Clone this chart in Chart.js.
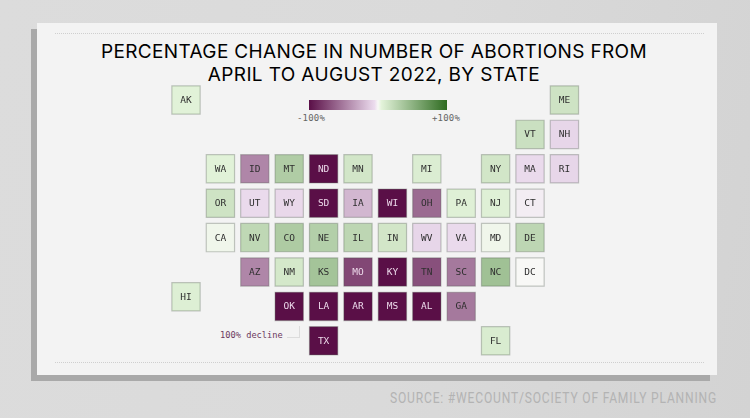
<!DOCTYPE html>
<html>
<head>
    <meta charset="UTF-8">
    <title>Abortions by state</title>
    <script src="https://cdn.jsdelivr.net/npm/chart.js"></script>
    <style>
        html, body { margin: 0; padding: 0; }
        body { width: 750px; height: 418px; overflow: hidden; position: relative;
               background: linear-gradient(100deg, #dcdcdc, #dadada 55%, #d3d3d3); }
        #shadow { position: absolute; left: 31px; top: 29px; width: 679px; height: 352px; background: #a9a9a9; }
        #card { position: absolute; left: 37px; top: 23px; width: 680px; height: 352px; background: #f3f3f3; }
        .dots { position: absolute; left: 55px; width: 649px; border-top: 1px dotted #cfcfcf; }
        #title { position: absolute; left: -1px; top: 40px; width: 750px; text-align: center;
                 font: 19px/23px Inter, sans-serif; letter-spacing: 0.36px; color: #000; }
        #ramp { position: absolute; left: 309px; top: 100px; width: 138px; height: 10px; }
        .mono { position: absolute; font-family: "DejaVu Sans Mono", monospace; white-space: nowrap; }
        #source { position: absolute; left: 390px; top: 389px; white-space: nowrap; color: #b3b3b3;
                  font: 15px/18px Roboto, sans-serif; letter-spacing: 1px;
                  transform: scaleX(.805); transform-origin: left top; }
        #leader { position: absolute; left: 287px; top: 326px; width: 12px; height: 11px;
                  border-right: 1px solid #dcdcdc; border-bottom: 1px solid #dcdcdc; }
        canvas { position: absolute; left: 0; top: 0; }
    </style>
</head>
<body>
    <div id="shadow"></div>
    <div id="card"></div>
    <div class="dots" style="top:33px"></div>
    <div class="dots" style="top:362px"></div>
    <div id="title">PERCENTAGE CHANGE IN NUMBER OF ABORTIONS FROM<br>APRIL TO AUGUST 2022, BY STATE</div>
    <div id="ramp"></div>
    <div class="mono" style="left:297px;top:113px;font-size:9px;letter-spacing:.2px;color:#666">-100%</div>
    <div class="mono" style="left:432px;top:113px;font-size:9px;letter-spacing:.2px;color:#666">+100%</div>
    <div class="mono" style="left:220px;top:330px;font-size:8.7px;color:#6b3a60">100% decline</div>
    <div id="leader"></div>
    <div id="source">SOURCE: #WECOUNT/SOCIETY OF FAMILY PLANNING</div>
    <canvas id="map" width="750" height="418"></canvas>

    <script>
        const states = ['AK','ME','VT','NH','WA','ID','MT','ND','MN','MI','NY','MA','RI',
            'OR','UT','WY','SD','IA','WI','OH','PA','NJ','CT',
            'CA','NV','CO','NE','IL','IN','WV','VA','MD','DE',
            'AZ','NM','KS','MO','KY','TN','SC','NC','DC','HI',
            'OK','LA','AR','MS','AL','GA','TX','FL'];
        const cols = [0,11,10,11,1,2,3,4,5,7,9,10,11,
            1,2,3,4,5,6,7,8,9,10,
            1,2,3,4,5,6,7,8,9,10,
            2,3,4,5,6,7,8,9,10,0,
            3,4,5,6,7,8,4,9];
        const rows = [0,0,1,1,2,2,2,2,2,2,2,2,2,
            3,3,3,3,3,3,3,3,3,3,
            4,4,4,4,4,4,4,4,4,4,
            5,5,5,5,5,5,5,5,5,5.72,
            6,6,6,6,6,6,7,7];
        // percent change, April to August 2022
        const changes = [6,16,18,-8,6,-45,32,-100,14,9,14,-6,-8,
            16,-6,-7,-100,-22,-100,-58,7,7,-2,
            2,24,33,30,25,14,-8,-6,2,25,
            -45,13,38,-74,-100,-70,-51,40,0,8,
            -100,-100,-100,-100,-100,-51,-100,10];

        const rampStops = [
            [-100, [90, 15, 71]],
            [-5, [236, 220, 238]],
            [0, [248, 248, 246]],
            [5, [227, 243, 218]],
            [100, [46, 107, 32]]
        ];

        function colorFor(v) {
            for (let i = 1; i < rampStops.length; i++) {
                if (v <= rampStops[i][0]) {
                    const a = rampStops[i - 1], b = rampStops[i];
                    const t = (v - a[0]) / (b[0] - a[0]);
                    const c = a[1].map((n, k) => Math.round(n + (b[1][k] - n) * t));
                    return `rgb(${c.join(',')})`;
                }
            }
            return `rgb(${rampStops[rampStops.length - 1][1].join(',')})`;
        }

        document.getElementById('ramp').style.background = 'linear-gradient(90deg,' +
            rampStops.map(s => `rgb(${s[1].join(',')}) ${(s[0] + 100) / 2}%`).join(',') + ')';

        // state codes sit in the middle of each square
        const cellLabels = {
            id: 'cellLabels',
            afterDatasetsDraw(chart) {
                const ctx = chart.ctx;
                ctx.save();
                ctx.font = '9.5px "DejaVu Sans Mono", monospace';
                ctx.textAlign = 'center';
                ctx.textBaseline = 'middle';
                chart.getDatasetMeta(0).data.forEach((pt, i) => {
                    ctx.fillStyle = changes[i] <= -73 ? '#ecd9ea' : '#2f2f2f';
                    ctx.fillText(states[i], pt.x, pt.y + 0.5);
                });
                ctx.restore();
            }
        };

        new Chart(document.getElementById('map').getContext('2d'), {
            type: 'scatter',
            data: {
                datasets: [{
                    data: states.map((s, i) => ({ x: cols[i], y: rows[i] })),
                    pointStyle: 'rect',
                    radius: 20,
                    borderWidth: 1.2,
                    borderColor: 'rgba(70,80,70,0.3)',
                    backgroundColor: changes.map(colorFor)
                }]
            },
            options: {
                responsive: false,
                animation: false,
                events: [],
                layout: { padding: 0, autoPadding: false },
                plugins: { legend: { display: false }, tooltip: { enabled: false } },
                scales: {
                    x: { type: 'linear', display: false, min: -5.407, max: 16.395 },
                    y: { type: 'linear', display: false, reverse: true, min: -2.907, max: 9.244 }
                }
            },
            plugins: [cellLabels]
        });
    </script>
</body>
</html>
